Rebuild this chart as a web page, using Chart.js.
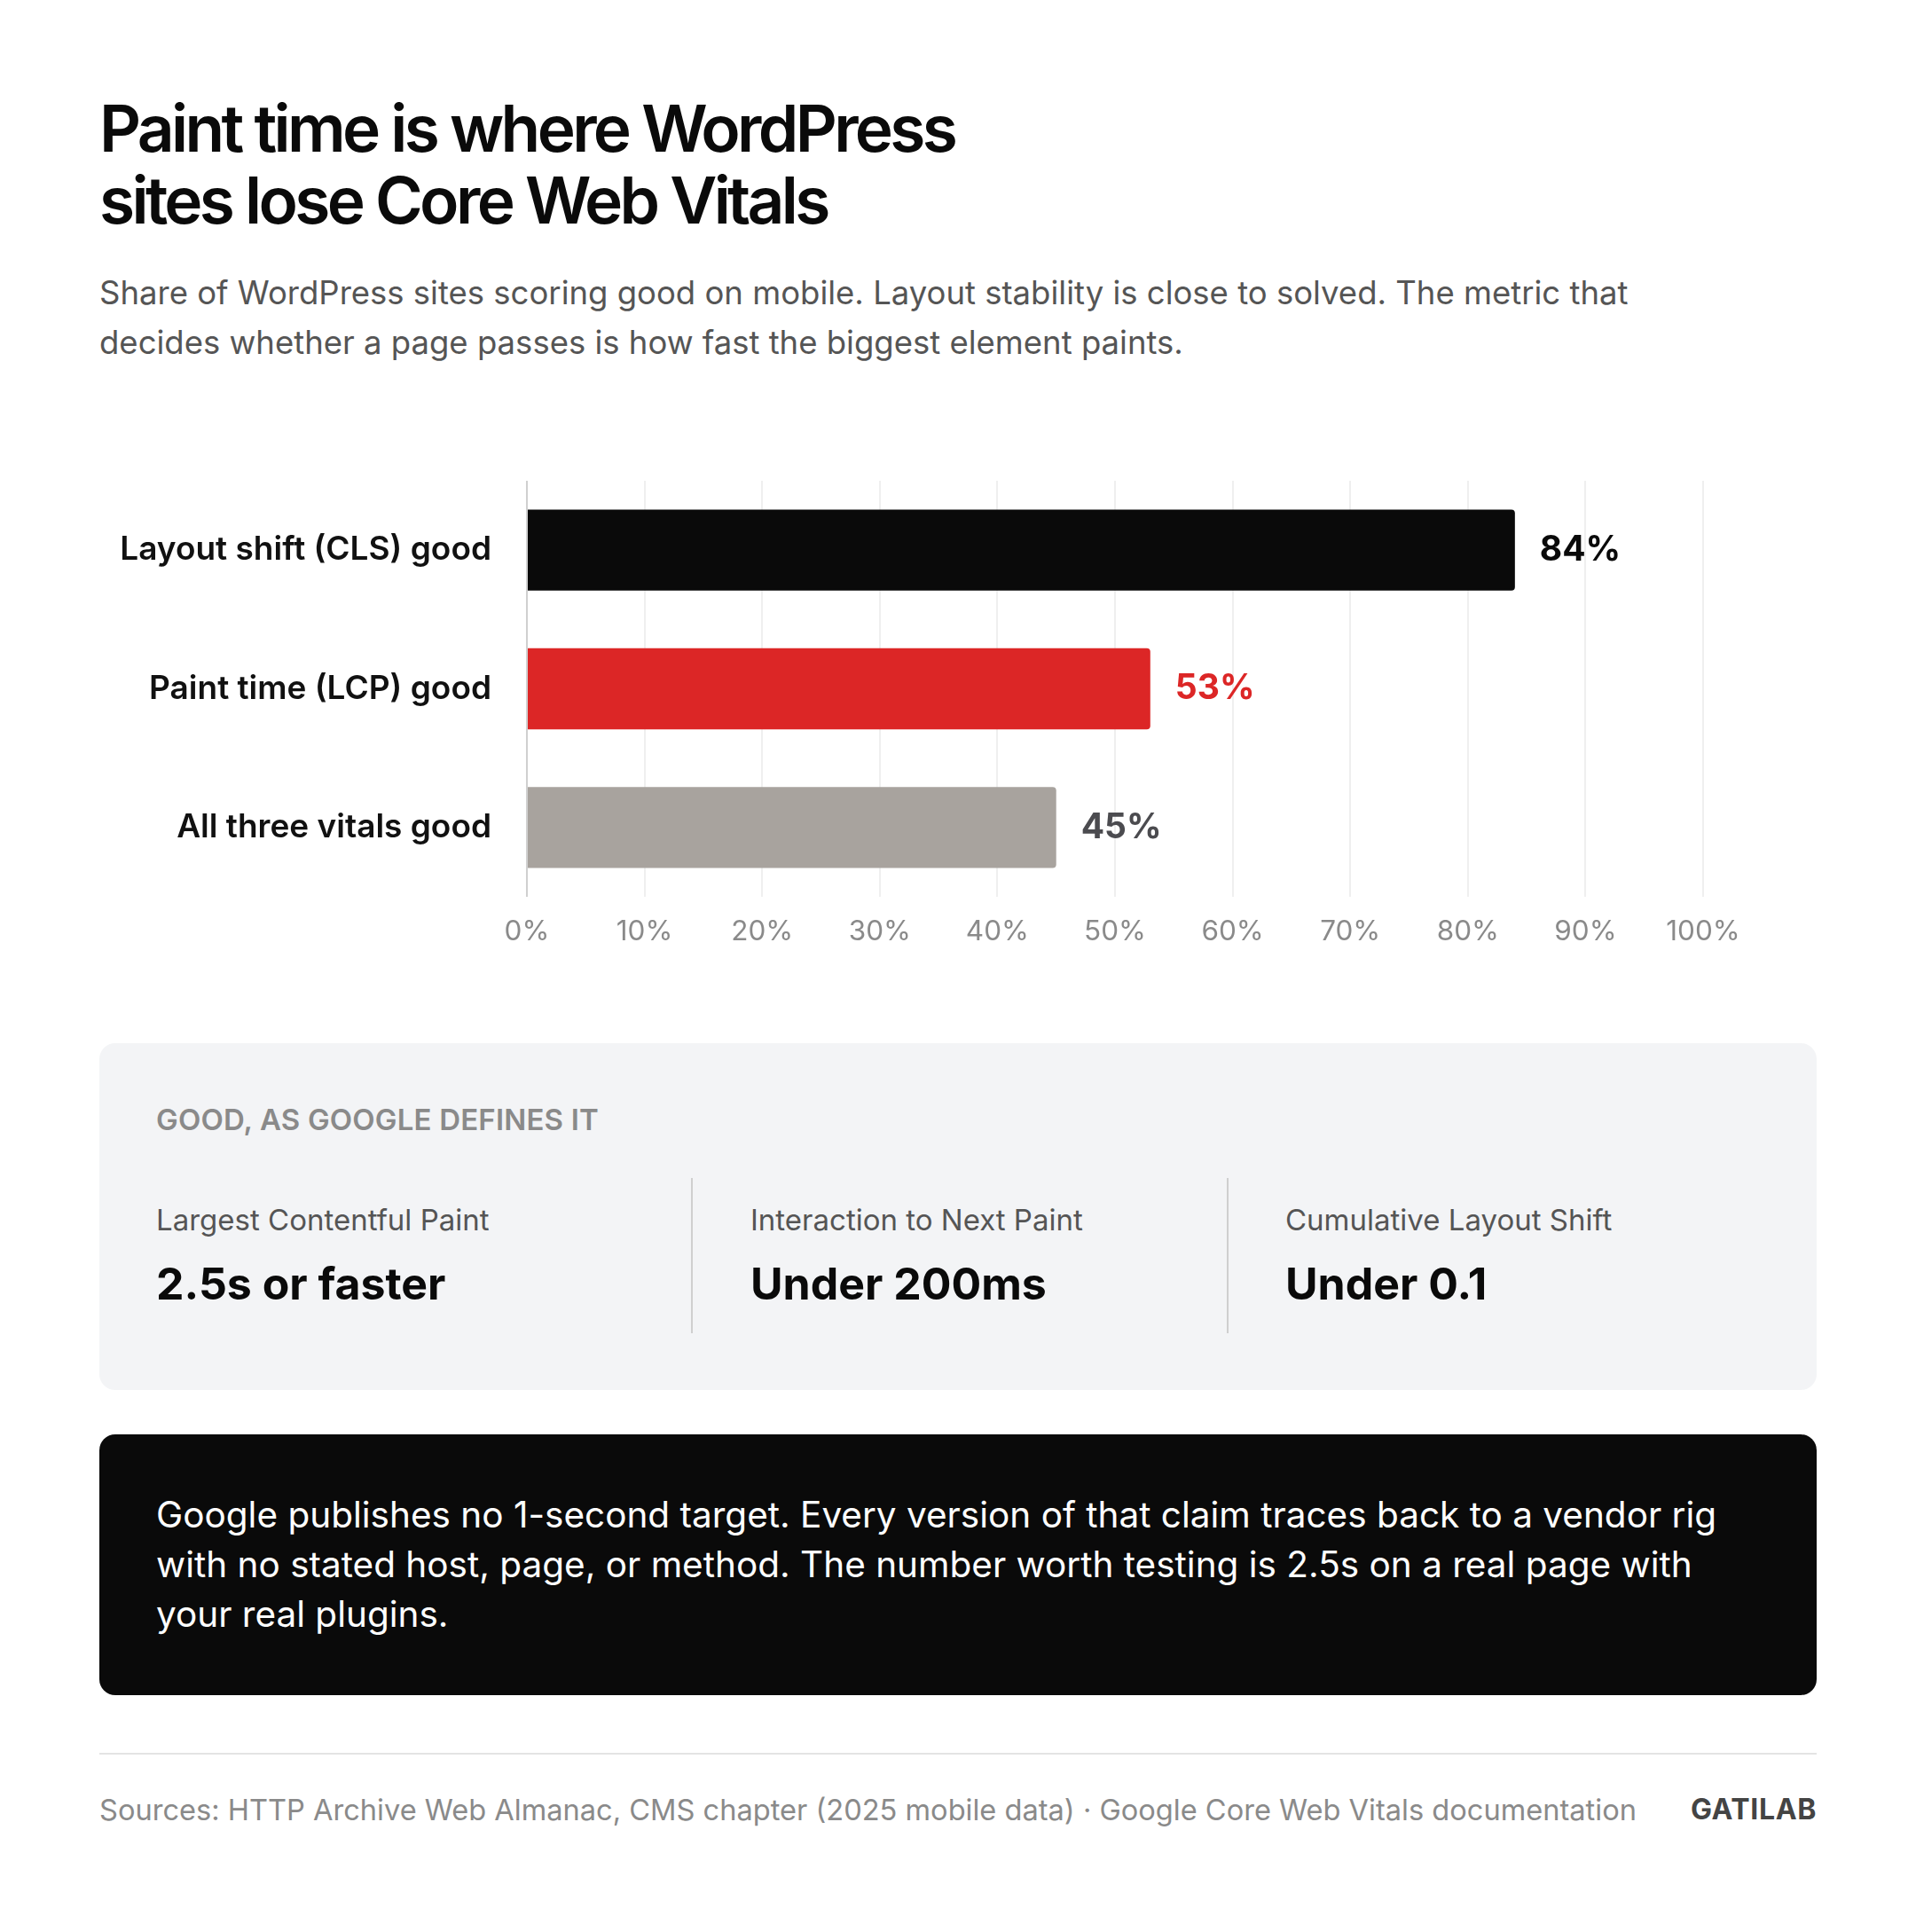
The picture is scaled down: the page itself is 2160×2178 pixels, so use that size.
<!DOCTYPE html>
<html>
<head>
<meta charset="utf-8">
<script src="https://cdn.jsdelivr.net/npm/chart.js@4.4.1/dist/chart.umd.min.js"></script>
<style>
  html, body { margin: 0; padding: 0; background: #fff; }
  body { width: 2160px; height: 2178px; position: relative; font-family: Inter, "Noto Sans", sans-serif; overflow: hidden; }
  .abs { position: absolute; }
  #title { left: 112px; top: 104px; font-size: 73px; line-height: 81px; font-weight: 600; letter-spacing: -0.05em; color: #0a0a0a; }
  #sub { left: 112px; top: 302px; width: 1900px; font-size: 36.5px; line-height: 56px; color: #555; }
  #chartBox { left: 112px; top: 520px; }
  #card { left: 112px; top: 1176px; width: 1936px; height: 391px; background: #f3f4f6; border-radius: 18px; }
  .kicker { left: 64px; top: 66px; font-size: 33px; font-weight: 600; color: #8a8a8a; letter-spacing: 0.005em; }
  .col { top: 179px; }
  .col .lab { font-size: 33px; color: #555; line-height: 40px; }
  .col .val { font-size: 50px; font-weight: 700; color: #0a0a0a; margin-top: 22px; line-height: 60px; }
  .div { top: 152px; width: 2px; height: 175px; background: #cfcfcf; }
  #note { left: 112px; top: 1617px; width: 1936px; height: 294px; background: #0a0a0a; border-radius: 18px; }
  #note p { position: absolute; left: 64px; top: 63px; margin: 0; font-size: 40.5px; line-height: 56px; color: #fff; }
  #rule { left: 112px; top: 1976px; width: 1936px; height: 2px; background: #e4e4e4; }
  #src { left: 112px; top: 2020px; font-size: 32.6px; color: #8a8a8a; }
  #brand { right: 112px; top: 2020px; font-size: 32px; font-weight: 700; color: #444; letter-spacing: 0.02em; }
</style>
</head>
<body>
<div id="title" class="abs">Paint time is where WordPress<br>sites lose Core Web Vitals</div>
<div id="sub" class="abs">Share of WordPress sites scoring good on mobile. Layout stability is close to solved. The metric that<br>decides whether a page passes is how fast the biggest element paints.</div>

<div id="chartBox" class="abs"><canvas id="bars" width="1936" height="580"></canvas></div>

<div id="card" class="abs">
  <div class="abs kicker">GOOD, AS GOOGLE DEFINES IT</div>
  <div class="abs col" style="left:64px"><div class="lab">Largest Contentful Paint</div><div class="val">2.5s or faster</div></div>
  <div class="abs div" style="left:667px"></div>
  <div class="abs col" style="left:734px"><div class="lab">Interaction to Next Paint</div><div class="val">Under 200ms</div></div>
  <div class="abs div" style="left:1271px"></div>
  <div class="abs col" style="left:1337px"><div class="lab">Cumulative Layout Shift</div><div class="val">Under 0.1</div></div>
</div>

<div id="note" class="abs"><p>Google publishes no 1-second target. Every version of that claim traces back to a vendor rig<br>with no stated host, page, or method. The number worth testing is 2.5s on a real page with<br>your real plugins.</p></div>

<div id="rule" class="abs"></div>
<div id="src" class="abs">Sources: HTTP Archive Web Almanac, CMS chapter (2025 mobile data) · Google Core Web Vitals documentation</div>
<div id="brand" class="abs">GATILAB</div>

<script>
// chart data
const categories = ["Layout shift (CLS) good", "Paint time (LCP) good", "All three vitals good"];
const shares = [84, 53, 45];
const barColors = ["#0a0a0a", "#dc2626", "#a8a39e"];
const labelColors = ["#0a0a0a", "#dc2626", "#4b4b4f"];
const tickStep = 10;

// draws the "84%" etc. next to each bar
const valueLabels = {
  id: "valueLabels",
  afterDatasetsDraw(chart) {
    const c = chart.ctx;
    const meta = chart.getDatasetMeta(0);
    c.save();
    c.font = "700 39px Inter, sans-serif";
    c.textBaseline = "middle";
    c.textAlign = "left";
    meta.data.forEach((bar, i) => {
      c.fillStyle = labelColors[i];
      c.fillText(shares[i] + "%", bar.x + 28, bar.y);
    });
    c.restore();
  }
};

const ctx = document.getElementById("bars").getContext("2d");
let my_chart = new Chart(ctx, {
  type: "bar",
  data: {
    labels: categories,
    datasets: [{
      data: shares,
      backgroundColor: barColors,
      borderRadius: 4,
      borderSkipped: "start",
      categoryPercentage: 1,
      barPercentage: 0.584
    }]
  },
  options: {
    indexAxis: "y",
    responsive: false,
    animation: false,
    layout: { padding: { top: 22, right: 128, bottom: 0, left: 0 } },
    plugins: { legend: { display: false }, tooltip: { enabled: false } },
    scales: {
      x: {
        min: 0, max: 100,
        ticks: {
          stepSize: tickStep,
          padding: 21,
          color: "#8a8a8a",
          font: { family: "Inter", size: 31.5 },
          callback: (v) => v + "%"
        },
        grid: {
          drawTicks: false,
          lineWidth: 2,
          color: (c) => c.index === 0 ? "#d0d0d0" : "#efefef"
        },
        border: { display: false },
        afterFit: (s) => { s.height = 89; }
      },
      y: {
        ticks: {
          padding: 40,
          color: "#111",
          font: { family: "Inter", size: 37, weight: "600" }
        },
        grid: { display: false, drawTicks: false },
        border: { display: false },
        afterFit: (s) => { s.width = 482; s.paddingTop = 0; s.paddingBottom = 0; }
      }
    }
  },
  plugins: [valueLabels]
});
</script>
</body>
</html>
